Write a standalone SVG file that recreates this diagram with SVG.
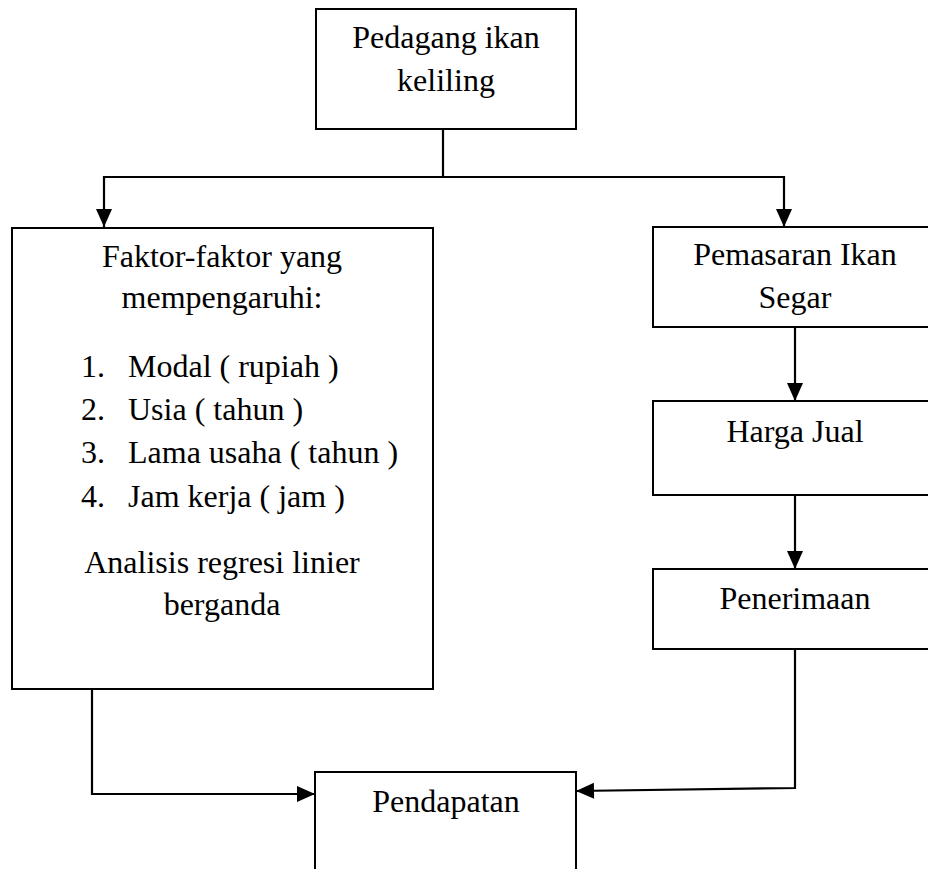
<svg xmlns="http://www.w3.org/2000/svg" width="928" height="869" viewBox="0 0 928 869">
<style>
.box{fill:#fff;stroke:#000;stroke-width:2}
.t{font-family:"Liberation Serif","Times New Roman",serif;font-size:32px;fill:#000}
.c{text-anchor:middle}
.ln{fill:none;stroke:#000;stroke-width:2.2}
</style>
<defs>
<marker id="ah" markerUnits="userSpaceOnUse" markerWidth="18" markerHeight="16" refX="18" refY="8" orient="auto" overflow="visible">
<path d="M0,0 L18,8 L0,16 z" fill="#000"/>
</marker>
</defs>
<rect width="928" height="869" fill="#fff"/>
<g id="connectors">
<path class="ln" d="M443,129 V177"/>
<path class="ln" d="M443,177 H104 V227" marker-end="url(#ah)"/>
<path class="ln" d="M443,177 H784 V227" marker-end="url(#ah)"/>
<path class="ln" d="M795,327 V401" marker-end="url(#ah)"/>
<path class="ln" d="M795,495 V569" marker-end="url(#ah)"/>
<path class="ln" d="M92,689 V794 H315" marker-end="url(#ah)"/>
<path class="ln" d="M795,649 V788 L576,791" marker-end="url(#ah)"/>
</g>
<g id="pedagang">
<rect class="box" x="316" y="9" width="260" height="120"/>
<text class="t c" x="446" y="48">Pedagang ikan</text>
<text class="t c" x="446" y="91">keliling</text>
</g>
<g id="faktor">
<rect class="box" x="12" y="228" width="421" height="461"/>
<text class="t c" x="222" y="267">Faktor-faktor yang</text>
<text class="t c" x="222" y="308">mempengaruhi:</text>
<text class="t" x="81" y="377">1.</text><text class="t" x="128" y="377">Modal ( rupiah )</text>
<text class="t" x="81" y="420">2.</text><text class="t" x="128" y="420">Usia ( tahun )</text>
<text class="t" x="81" y="463">3.</text><text class="t" x="128" y="463">Lama usaha ( tahun )</text>
<text class="t" x="81" y="507">4.</text><text class="t" x="128" y="507">Jam kerja ( jam )</text>
<text class="t c" x="222" y="573">Analisis regresi linier</text>
<text class="t c" x="222" y="615">berganda</text>
</g>
<g id="pemasaran">
<rect class="box" x="653" y="227" width="290" height="100"/>
<text class="t c" x="795" y="265">Pemasaran Ikan</text>
<text class="t c" x="795" y="308">Segar</text>
</g>
<g id="harga">
<rect class="box" x="653" y="401" width="290" height="94"/>
<text class="t c" x="795" y="442">Harga Jual</text>
</g>
<g id="penerimaan">
<rect class="box" x="653" y="569" width="290" height="80"/>
<text class="t c" x="795" y="609">Penerimaan</text>
</g>
<g id="pendapatan">
<rect class="box" x="315" y="772" width="261" height="120"/>
<text class="t c" x="446" y="812">Pendapatan</text>
</g>
</svg>
